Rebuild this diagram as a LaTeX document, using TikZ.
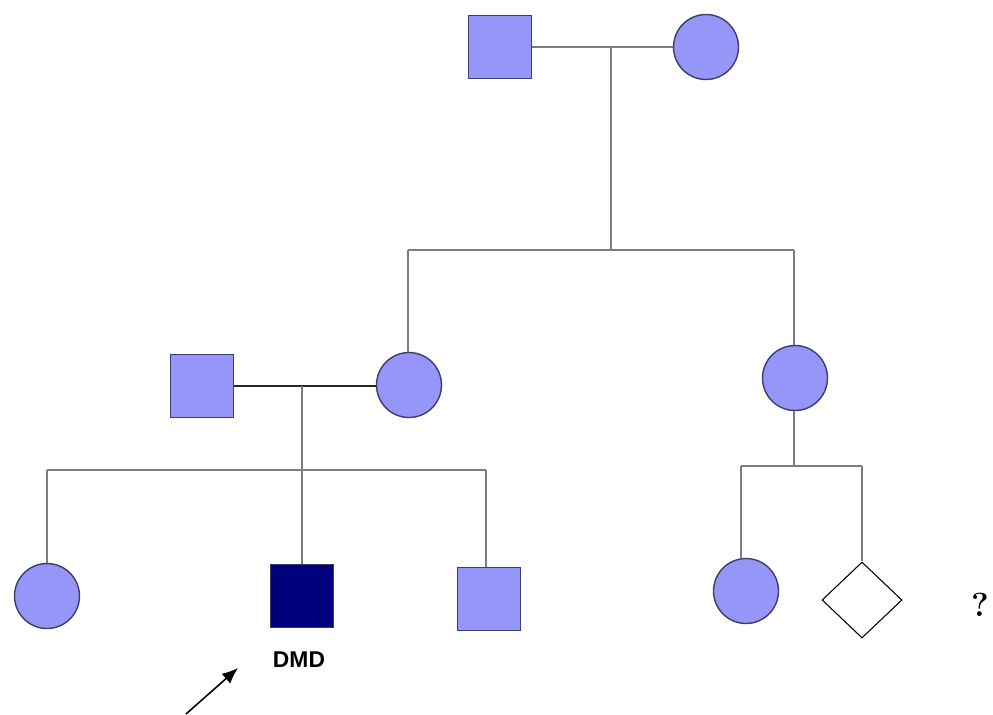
\documentclass[tikz,border=0pt]{standalone}
\usepackage{fontspec}
\setsansfont{Liberation Sans}
\usetikzlibrary{shapes.geometric,arrows.meta}

\definecolor{pedfill}{RGB}{150,150,248}
\definecolor{pededge}{RGB}{60,60,110}
\definecolor{pedline}{RGB}{125,125,125}
\definecolor{affected}{RGB}{0,0,125}

\tikzset{
  male/.style={draw=pededge, fill=pedfill, line width=0.8pt, minimum size=1.26cm, inner sep=0pt},
  female/.style={circle, draw=pededge, fill=pedfill, line width=0.8pt, minimum size=1.3cm, inner sep=0pt},
  unknown/.style={diamond, draw=black, fill=white, line width=0.6pt, minimum width=1.6cm, minimum height=1.52cm, inner sep=0pt},
  link/.style={draw=pedline, line width=1.1pt},
  mate/.style={draw=black!85, line width=0.8pt}
}

\begin{document}
\begin{tikzpicture}[x=0.02cm, y=-0.02cm]
				\useasboundingbox (0,0) rectangle (993,714);
				
				\node[male] (gf) at (500,47) {};
				\node[female] (gm) at (706,47) {};
				\coordinate (gmate) at (611,46);
				\coordinate (gsib) at (611,250);
				\draw[link] (gf) -- (gm);
				\draw[link] (gmate) -- (gsib);
				
				\coordinate (sibl) at (408,250);
				\coordinate (sibr) at (794,250);
				\draw[link] (sibl) -- (sibr);
				
				\node[male] (fa) at (202,386) {};
				\node[female] (mo) at (409,385) {};
				\node[female] (au) at (795,378) {};
				\draw[link] (sibl) -- (sibl |- mo.north);
				\draw[link] (sibr) -- (sibr |- au.north);
				
				\coordinate (pmate) at (302,386);
				\coordinate (psib) at (302,470);
				\draw[mate] (fa.east) -- (fa.east -| mo.west);
				\draw[link] (pmate) -- (psib);
				
				\coordinate (kidl) at (47,470);
				\coordinate (kidr) at (486,470);
				\draw[link] (kidl) -- (kidr);
				
				\node[female] (sis) at (47,596) {};
				\node[male, fill=affected] (pro) at (302,596) {};
				\node[male] (bro) at (489,599) {};
				\draw[link] (kidl) -- (sis.north);
				\draw[link] (psib) -- (pro.north);
				\draw[link] (kidr) -- (kidr |- bro.north);
				
				\coordinate (asib) at (794,466);
				\coordinate (ckidl) at (741,466);
				\coordinate (ckidr) at (862,466);
				\draw[link] (asib |- au.south) -- (asib);
				\draw[link] (ckidl) -- (ckidr);
				
				\node[female] (cou) at (746,591) {};
				\node[unknown] (fet) at (862,600) {};
				\draw[link] (ckidl) -- (ckidl |- cou.north);
				\draw[link] (ckidr) -- (fet.north);
				
				\node[font=\fontsize{19}{19}\selectfont\bfseries] (q) at (980,605) {?};
				\node[font=\sffamily\bfseries\fontsize{13}{13}\selectfont] (dmd) at (299,660) {DMD};
				\coordinate (tail) at (186,714);
				\coordinate (head) at (238,668);
				\draw[line width=0.9pt, -{Latex[length=3.2mm,width=2.6mm]}] (tail) -- (head);
			\end{tikzpicture}
\end{document}
